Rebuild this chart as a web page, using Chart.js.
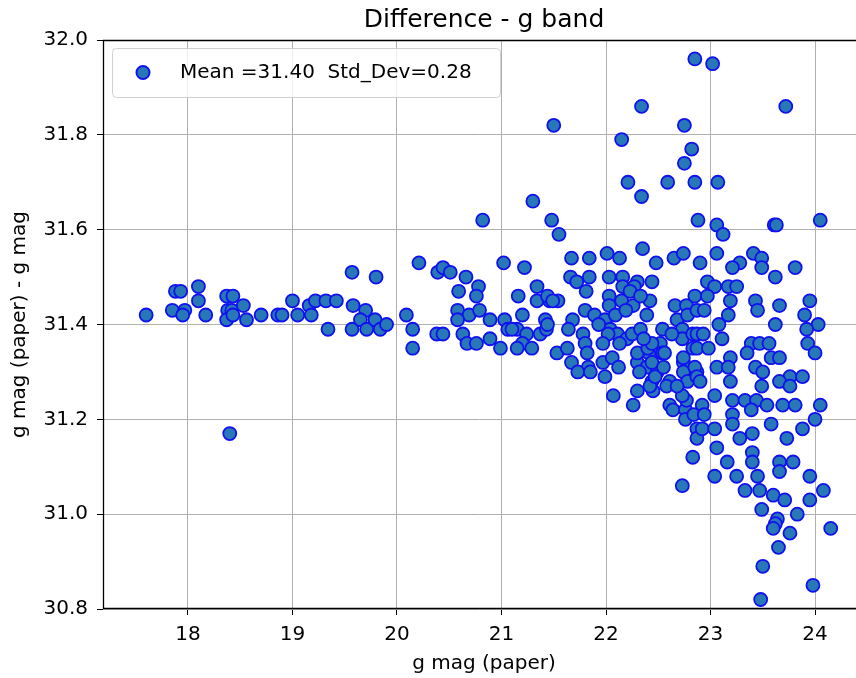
<!DOCTYPE html>
<html>
<head>
<meta charset="utf-8">
<title>Difference - g band</title>
<script src="https://cdn.jsdelivr.net/npm/chart.js@4.4.1/dist/chart.umd.min.js"></script>
<style>
  html, body { margin: 0; padding: 0; background: #fff; }
  #wrap { width: 856px; height: 678px; position: relative; }
</style>
</head>
<body>
<div id="wrap"><canvas id="diffChart"></canvas></div>
<script>
/* g mag (paper) values */
const gMagPaper = [
  17.60, 17.88, 17.93, 18.10, 18.10, 17.85, 17.97, 17.95, 18.17, 18.37,
  18.43, 18.38, 18.42, 18.37, 18.43, 18.53, 18.56, 18.40, 18.70, 18.86,
  18.90, 19.00, 19.05, 19.16, 19.18, 19.22, 19.32, 19.42, 19.34, 19.57,
  19.80, 19.58, 19.70, 19.57, 19.65, 19.71, 19.79, 19.84, 19.90, 20.09,
  20.21, 20.15, 20.15, 20.39, 20.44, 20.51, 20.66, 20.59, 20.78, 20.76,
  20.58, 20.69, 20.79, 20.89, 20.58, 20.38, 20.44, 20.63, 20.67, 20.76,
  20.89, 20.99, 21.03, 21.06, 21.02, 21.22, 21.34, 21.16, 21.34, 21.20,
  21.42, 21.46, 21.15, 21.24, 21.20, 21.15, 21.29, 21.37, 21.43, 21.53,
  20.82, 21.30, 21.50, 21.48, 21.55,
  22.21, 22.34, 22.59, 21.67, 21.84, 22.01, 22.13, 22.35, 22.48, 22.65,
  22.74, 21.66, 21.72, 21.84, 21.81, 21.44, 21.54, 22.03, 22.16, 22.30,
  22.44, 22.16, 22.27, 22.03, 22.03, 22.15, 22.26, 22.42, 22.66, 22.77,
  21.44, 21.80, 21.89, 21.68, 21.10, 21.64, 21.78, 21.80, 21.63, 21.82,
  21.67, 21.83, 21.73, 21.85, 21.97, 21.99, 22.04, 22.11, 22.20, 22.13,
  22.25, 22.33, 22.39, 22.54, 22.68, 22.73, 22.52, 22.41, 22.54, 22.30,
  22.39, 22.06, 22.61, 22.74, 22.74, 22.49, 22.44, 22.30, 22.07,
  22.26, 22.45, 22.61, 22.64, 22.76, 22.77, 22.76, 22.87, 22.87, 22.83,
  22.73, 22.42, 22.73, 22.78, 22.87, 21.49, 22.30, 22.40, 22.44, 22.12,
  22.32, 22.44, 22.47, 22.56, 22.55, 22.73, 22.83, 22.85, 22.74, 22.83,
  22.85, 22.87, 22.63, 22.23, 22.33, 22.02, 21.97, 22.78, 22.58, 22.68,
  21.99, 22.09, 21.93, 22.19, 22.36,
  22.85, 23.02, 23.72, 22.34, 22.75, 22.15, 22.82, 22.75, 22.85, 23.07,
  22.88, 23.06, 23.12, 23.61, 23.63, 24.05, 22.90, 23.06, 23.28, 23.41,
  23.49,
  23.21, 23.49, 23.62, 23.81, 22.97, 23.04, 23.17, 23.25, 22.97, 23.19,
  23.43, 23.45, 23.66, 23.95, 22.87, 22.94, 23.17, 23.90, 23.08, 23.62,
  24.03, 23.92, 22.87, 22.93, 23.11, 23.93, 23.39, 23.47, 23.56, 22.87,
  22.98, 24.00, 23.19, 23.35, 23.58, 23.66, 23.06, 23.17, 23.43, 23.50,
  23.76, 23.88,
  22.90, 23.19, 23.49, 23.66, 23.76, 23.04, 23.21, 23.33, 23.44, 23.54,
  23.69, 23.81, 24.05, 24.00, 22.92, 22.84, 22.94, 23.21, 23.39, 23.58,
  23.88, 22.92, 23.04, 23.21, 23.28, 23.40, 23.73, 23.06, 23.16, 23.40,
  23.40, 23.66, 23.79, 23.66, 23.04, 23.25, 23.45, 23.95, 23.33, 23.47,
  23.60, 23.71, 23.95, 24.08, 23.49, 23.83, 23.64,
  23.62, 23.60, 23.76, 24.15, 23.65, 23.50, 23.98, 23.48
];

/* g mag (paper) - g mag, same order */
const gMagDiff = [
  31.42, 31.47, 31.47, 31.48, 31.45, 31.43, 31.43, 31.42, 31.42, 31.46,
  31.46, 31.43, 31.43, 31.41, 31.42, 31.44, 31.41, 31.17, 31.42, 31.42,
  31.42, 31.45, 31.42, 31.44, 31.42, 31.45, 31.45, 31.45, 31.39, 31.51,
  31.50, 31.44, 31.43, 31.39, 31.41, 31.39, 31.41, 31.39, 31.40, 31.42,
  31.53, 31.39, 31.35, 31.51, 31.52, 31.51, 31.50, 31.47, 31.48, 31.46,
  31.43, 31.42, 31.43, 31.41, 31.41, 31.38, 31.38, 31.38, 31.36, 31.36,
  31.37, 31.35, 31.41, 31.39, 31.53, 31.52, 31.48, 31.46, 31.45, 31.42,
  31.41, 31.45, 31.39, 31.38, 31.36, 31.35, 31.35, 31.38, 31.39, 31.34,
  31.62, 31.66, 31.82, 31.62, 31.59,
  31.70, 31.67, 31.70, 31.54, 31.54, 31.55, 31.54, 31.56, 31.53, 31.54,
  31.55, 31.50, 31.49, 31.50, 31.47, 31.46, 31.45, 31.50, 31.50, 31.49,
  31.49, 31.48, 31.48, 31.46, 31.44, 31.45, 31.44, 31.45, 31.44, 31.44,
  31.40, 31.43, 31.42, 31.41, 31.39, 31.39, 31.38, 31.36, 31.35, 31.34,
  31.32, 31.31, 31.30, 31.30, 31.32, 31.41, 31.39, 31.38, 31.37, 31.36,
  31.38, 31.39, 31.42, 31.39, 31.41, 31.39, 31.36, 31.34, 31.34, 31.32,
  31.31, 31.33, 31.28, 31.32, 31.30, 31.30, 31.28, 31.26, 31.25,
  31.23, 31.26, 31.23, 31.22, 31.22, 31.24, 31.20, 31.18, 31.16, 31.12,
  31.06, 31.27, 31.25, 31.28, 31.30, 31.45, 31.34, 31.35, 31.36, 31.31,
  31.30, 31.32, 31.29, 31.34, 31.31, 31.37, 31.38, 31.46, 31.33, 31.35,
  31.31, 31.29, 31.38, 31.47, 31.46, 31.38, 31.36, 31.42, 31.27, 31.27,
  31.29, 31.42, 31.40, 31.43, 31.37,
  31.96, 31.95, 31.86, 31.86, 31.82, 31.79, 31.77, 31.74, 31.70, 31.70,
  31.62, 31.61, 31.59, 31.61, 31.61, 31.62, 31.53, 31.55, 31.53, 31.55,
  31.54,
  31.52, 31.52, 31.50, 31.52, 31.49, 31.48, 31.48, 31.48, 31.46, 31.45,
  31.45, 31.43, 31.44, 31.45, 31.43, 31.43, 31.42, 31.42, 31.40, 31.40,
  31.40, 31.39, 31.38, 31.38, 31.37, 31.36, 31.36, 31.36, 31.36, 31.35,
  31.35, 31.34, 31.33, 31.34, 31.33, 31.33, 31.31, 31.31, 31.31, 31.30,
  31.29, 31.29,
  31.28, 31.28, 31.27, 31.28, 31.27, 31.25, 31.24, 31.24, 31.24, 31.23,
  31.23, 31.23, 31.23, 31.20, 31.23, 31.21, 31.21, 31.21, 31.22, 31.19,
  31.18, 31.18, 31.18, 31.19, 31.16, 31.17, 31.16, 31.14, 31.11, 31.13,
  31.11, 31.11, 31.11, 31.09, 31.08, 31.08, 31.08, 31.08, 31.05, 31.05,
  31.04, 31.03, 31.03, 31.05, 31.01, 31.00, 30.99,
  30.98, 30.97, 30.96, 30.97, 30.93, 30.89, 30.85, 30.82
];

/* tick labels */
const xTicks = [18, 19, 20, 21, 22, 23, 24];
const yTicks = [30.8, 31.0, 31.2, 31.4, 31.6, 31.8, 32.0];

const seriesLabel = "Mean =31.40  Std_Dev=0.28";
const chartTitle = "Difference - g band";
const xTitle = "g mag (paper)";
const yTitle = "g mag (paper) - g mag";

const FONT = "'DejaVu Sans', sans-serif";
const FILL = "#2878b8";
const EDGE = "#1010f0";

/* frame, title, axis labels and legend drawn by hand (matplotlib look).
   The axes run past the right edge of the picture, so no right spine. */
const decorPlugin = {
  id: "decor",
  afterDatasetsDraw(chart) {
    const { ctx, chartArea: a } = chart;
    ctx.save();
    ctx.strokeStyle = "#000";
    ctx.lineWidth = 1.3;
    ctx.beginPath();
    ctx.moveTo(chart.width, a.top + 0.5);
    ctx.lineTo(a.left + 0.5, a.top + 0.5);
    ctx.lineTo(a.left + 0.5, a.bottom - 0.5);
    ctx.lineTo(chart.width, a.bottom - 0.5);
    ctx.stroke();
    ctx.restore();
  },
  afterDraw(chart) {
    const { ctx, chartArea: a } = chart;
    const cx = a.left + 381;
    ctx.save();
    ctx.fillStyle = "#000";
    ctx.textAlign = "center";
    ctx.textBaseline = "alphabetic";
    ctx.font = "25px " + FONT;
    ctx.fillText(chartTitle, cx, 27);
    ctx.font = "20px " + FONT;
    ctx.fillText(xTitle, cx, 669);
    ctx.translate(25, (a.top + a.bottom) / 2);
    ctx.rotate(-Math.PI / 2);
    ctx.fillText(yTitle, 0, 0);
    ctx.restore();

    // legend box
    const bx = a.left + 9, by = a.top + 8, bw = 388, bh = 49;
    ctx.save();
    ctx.fillStyle = "rgba(255,255,255,0.8)";
    ctx.strokeStyle = "#d0d0d0";
    ctx.lineWidth = 1;
    ctx.beginPath();
    ctx.roundRect(bx + 0.5, by + 0.5, bw, bh, 4);
    ctx.fill();
    ctx.stroke();
    ctx.beginPath();
    ctx.arc(bx + 31, by + bh / 2, 6.5, 0, Math.PI * 2);
    ctx.fillStyle = FILL;
    ctx.fill();
    ctx.lineWidth = 2;
    ctx.strokeStyle = EDGE;
    ctx.stroke();
    ctx.fillStyle = "#000";
    ctx.font = "20px " + FONT;
    ctx.textAlign = "left";
    ctx.textBaseline = "middle";
    ctx.fillText(seriesLabel, bx + 68, by + bh / 2);
    ctx.restore();
  }
};

const points = gMagPaper.map((x, i) => ({ x: x, y: gMagDiff[i] }));

new Chart(document.getElementById("diffChart"), {
  type: "scatter",
  data: {
    datasets: [{
      label: seriesLabel,
      data: points,
      backgroundColor: FILL,
      borderColor: EDGE,
      borderWidth: 1.8,
      pointRadius: 6.5,
      pointHoverRadius: 6.5
    }]
  },
  options: {
    responsive: true,
    maintainAspectRatio: false,
    animation: false,
    events: [],
    layout: { autoPadding: false, padding: { left: 0, top: 40, right: 0, bottom: 0 } },
    plugins: {
      legend: { display: false },
      title: { display: false },
      tooltip: { enabled: false }
    },
    scales: {
      x: {
        type: "linear",
        min: 17.187,
        max: 24.392,
        afterBuildTicks: axis => { axis.ticks = xTicks.map(v => ({ value: v })); },
        afterFit: axis => {
          axis.height = 69;
          axis.paddingLeft = 0;
          axis.paddingRight = 0;
        },
        grid: { color: "#b0b0b0", lineWidth: 1, tickColor: "#000", tickLength: 6 },
        border: { display: false },
        ticks: {
          color: "#000",
          font: { family: FONT, size: 20 },
          padding: 8,
          maxRotation: 0,
          callback: v => String(v)
        }
      },
      y: {
        type: "linear",
        min: 30.8,
        max: 32.0,
        afterBuildTicks: axis => { axis.ticks = yTicks.map(v => ({ value: v })); },
        afterFit: axis => {
          axis.width = 103;
          axis.paddingTop = 0;
          axis.paddingBottom = 0;
        },
        grid: { color: "#b0b0b0", lineWidth: 1, tickColor: "#000", tickLength: 6 },
        border: { display: false },
        ticks: {
          color: "#000",
          font: { family: FONT, size: 20 },
          padding: 9,
          callback: v => v.toFixed(1)
        }
      }
    }
  },
  plugins: [decorPlugin]
});
</script>
</body>
</html>
